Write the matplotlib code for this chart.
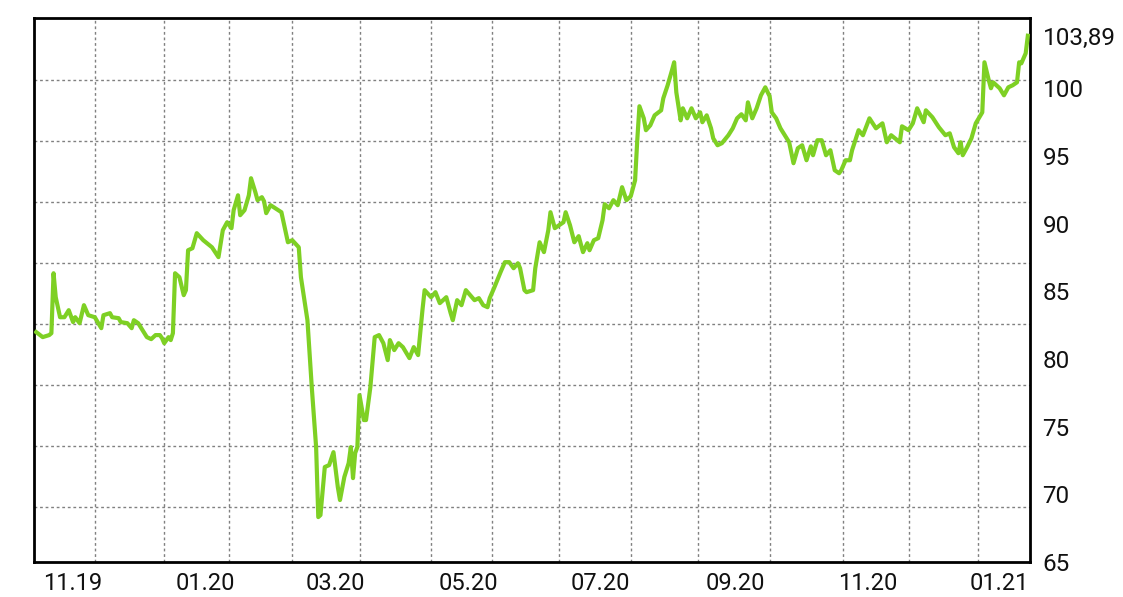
import numpy as np
import matplotlib
matplotlib.use("Agg")
import matplotlib.pyplot as plt
import matplotlib.dates as mdates

# dias desde el 01.11.2019 y valor de cierre
tage = [-17, -14, -11, -10, -9, -8, -6, -4, -2, 0, 1, 3, 5, 7, 10, 13, 14, 17, 18, 21,
        22, 25, 27, 28, 30, 32, 34, 36, 38, 40, 41, 42, 44, 45, 46, 47, 49, 51, 52, 53,
        55, 57, 60, 64, 67, 69, 71, 73, 74, 76, 77, 79, 81, 82, 84, 85, 87, 88, 89, 91,
        96, 99, 101, 104, 105, 108, 110, 112, 113, 114, 116, 118, 120, 122, 123, 125, 127, 128, 129, 130,
        131, 132, 134, 135, 137, 139, 141, 143, 145, 146, 148, 150, 152, 155, 157, 159, 161, 162, 165, 167,
        169, 172, 174, 175, 177, 179, 181, 183, 185, 187, 189, 191, 192, 194, 197, 199, 201, 203, 205, 206,
        208, 209, 212, 213, 215, 217, 219, 220, 222, 224, 226, 227, 229, 231, 233, 235, 237, 238, 240, 242,
        244, 245, 247, 249, 251, 253, 255, 257, 259, 260, 261, 263, 264, 266, 268, 271, 272, 274, 276, 277,
        278, 280, 281, 283, 285, 287, 289, 290, 292, 294, 295, 297, 299, 302, 304, 306, 308, 310, 311, 313,
        315, 317, 319, 321, 322, 324, 326, 328, 330, 332, 334, 336, 338, 340, 341, 343, 345, 347, 349, 351,
        353, 354, 356, 358, 359, 362, 364, 367, 370, 373, 375, 377, 381, 382, 385, 387, 389, 392, 393, 396,
        399, 402, 404, 406, 408, 409, 410, 412, 414, 416, 419, 420, 422, 423, 424, 427, 429, 431, 433, 435,
        436, 437, 439, 440]
kurs = [81.99, 81.62, 81.77, 81.91, 86.34, 84.57, 83.09, 83.09, 83.61, 82.73, 83.09, 82.65, 83.98, 83.24, 83.09, 82.28, 83.24, 83.39, 83.09, 83.02,
        82.73, 82.65, 82.28, 82.87, 82.65, 82.13, 81.62, 81.47, 81.77, 81.77, 81.54, 81.17, 81.62, 81.40, 81.91, 86.34, 86.05, 84.72, 85.09, 88.04,
        88.19, 89.30, 88.78, 88.26, 87.53, 89.52, 90.11, 89.67, 91.00, 92.10, 90.63, 91.00, 92.10, 93.36, 92.33, 91.74, 91.96, 91.66, 90.78, 91.37,
        90.85, 88.63, 88.78, 88.26, 86.05, 82.87, 77.92, 73.49, 68.32, 68.47, 72.02, 72.16, 73.12, 70.54, 69.58, 71.28, 72.31, 73.49, 71.20, 73.05,
        73.49, 77.33, 75.49, 75.49, 77.92, 81.62, 81.77, 81.17, 79.92, 81.40, 80.66, 81.17, 80.88, 80.07, 80.88, 80.29, 83.61, 85.09, 84.57, 84.94,
        84.13, 84.57, 83.39, 82.87, 84.35, 83.98, 85.09, 84.72, 84.35, 84.50, 83.98, 83.83, 84.50, 85.24, 86.42, 87.16, 87.16, 86.71, 87.08, 86.71,
        85.09, 84.94, 85.09, 86.71, 88.63, 87.90, 89.52, 90.85, 89.67, 89.89, 90.11, 90.85, 89.89, 88.63, 89.08, 87.90, 88.56, 88.04, 88.78, 88.93,
        90.26, 91.44, 91.14, 91.74, 91.37, 92.70, 91.74, 92.03, 93.21, 96.17, 98.68, 97.79, 96.91, 97.27, 98.01, 98.38, 99.27, 100.23, 101.34, 101.93,
        99.71, 97.64, 98.53, 97.79, 98.53, 97.79, 98.23, 97.50, 98.01, 97.05, 96.31, 95.80, 95.95, 96.54, 97.05, 97.79, 98.09, 97.64, 98.97, 97.79,
        98.53, 99.49, 100.08, 99.42, 98.23, 97.79, 97.05, 96.54, 96.02, 94.47, 95.58, 95.80, 94.69, 95.72, 95.06, 96.17, 96.17, 95.06, 95.43, 93.95,
        93.73, 93.95, 94.69, 94.69, 95.43, 96.91, 96.54, 97.79, 97.05, 97.42, 96.02, 96.54, 96.02, 97.20, 96.91, 97.42, 98.53, 97.50, 98.38, 97.87,
        97.13, 96.54, 96.68, 95.65, 95.21, 96.02, 95.06, 95.65, 96.31, 97.42, 98.23, 101.93, 100.60, 100.01, 100.45, 100.01, 99.49, 100.08, 100.23, 100.45,
        101.93, 101.85, 102.59, 103.89]

# etiquetas del eje y (a la derecha) y su texto
y_ticks = [65, 70, 75, 80, 85, 90, 95, 100, 103.89]
y_labels = ["65", "70", "75", "80", "85", "90", "95", "100", "103,89"]

# la cuadricula no coincide con las etiquetas en el original
grid_y = [69.06, 73.57, 78.07, 82.58, 87.08, 91.59, 96.09, 100.60]
grid_tage = [10, 42, 72, 101, 132, 165, 193, 224, 257, 288, 321, 355, 385, 417]

inicio = np.datetime64("2019-11-01")


def main():
    plt.rcParams["font.family"] = ["Roboto", "DejaVu Sans"]
    fechas = inicio + np.array(tage).astype("timedelta64[D]")
    fechas_grid = inicio + np.array(grid_tage).astype("timedelta64[D]")

    fig = plt.figure(figsize=(11.23, 5.97), dpi=100)
    ax = fig.add_axes([0.0303, 0.0586, 0.8869, 0.9112])

    # cuadricula punteada
    for g in grid_y:
        ax.axhline(g, color="#808080", lw=1.0, ls=(0, (2, 2)), zorder=1)
    for g in fechas_grid:
        ax.axvline(g, color="#808080", lw=1.0, ls=(0, (2, 2)), zorder=1)

    ax.plot(fechas, kurs, color="#7ed024", lw=3.0, solid_joinstyle="round", zorder=3)

    ax.set_xlim(inicio - np.timedelta64(18, "D"), inicio + np.timedelta64(441, "D"))
    ax.set_ylim(65, 105.2)

    ax.yaxis.tick_right()
    ax.set_yticks(y_ticks)
    ax.set_yticklabels(y_labels)
    ax.xaxis.set_major_locator(mdates.MonthLocator(bymonth=[1, 3, 5, 7, 9, 11]))
    ax.xaxis.set_major_formatter(mdates.DateFormatter("%m.%y"))
    ax.tick_params(axis="y", length=0, pad=9, labelsize=17.5, colors="#111111")
    ax.tick_params(axis="x", length=0, pad=7, labelsize=17, colors="#111111")

    for s in ax.spines.values():
        s.set_linewidth(2.0)
        s.set_color("black")

    fig.savefig("out.png", dpi=100)


if __name__ == "__main__":
    main()
